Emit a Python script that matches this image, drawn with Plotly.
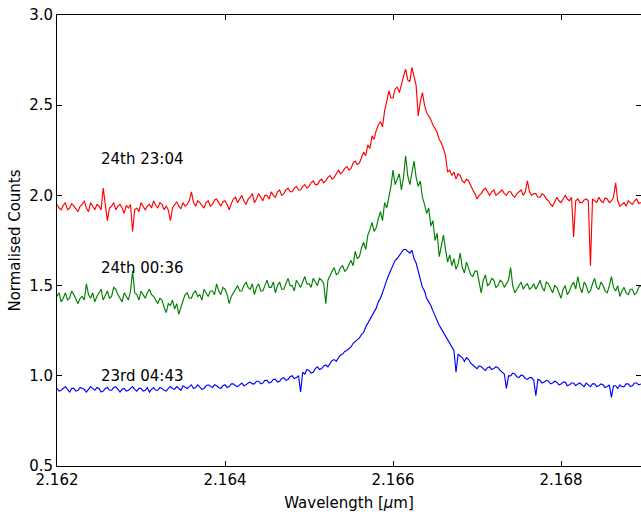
import numpy as np
import plotly.graph_objects as go

# Wavelength grid of the extracted spectra (micron)
WL_START = 2.162
WL_STEP = 0.000025

# Normalised counts, one spectrum per epoch
red_2304 = [
    1.95, 1.93, 1.92, 1.945, 1.96, 1.92, 1.93, 1.955, 1.94, 1.925,
    1.91, 1.94, 1.95, 1.97, 1.93, 1.91, 1.96, 1.94, 1.92, 1.95,
    1.94, 1.92, 2.04, 1.95, 1.86, 1.93, 1.94, 1.96, 1.92, 1.94,
    1.95, 1.93, 1.90, 1.945, 1.93, 1.95, 1.80, 1.92, 1.93, 1.91,
    1.96, 1.94, 1.92, 1.94, 1.95, 1.93, 1.97, 1.945, 1.93, 1.96,
    1.95, 1.92, 1.94, 1.92, 1.86, 1.93, 1.95, 1.965, 1.94, 1.925,
    1.96, 1.94, 1.95, 1.97, 2.02, 1.96, 1.94, 1.97, 1.96, 1.945,
    1.93, 1.96, 1.97, 1.94, 1.95, 1.975, 1.98, 1.96, 1.94, 1.965,
    1.97, 1.95, 1.92, 1.955, 1.98, 1.99, 1.96, 1.98, 2.00, 1.97,
    1.95, 1.98, 1.99, 2.01, 1.96, 1.98, 2.01, 1.99, 1.97, 2.00,
    2.00, 1.98, 2.02, 2.00, 1.99, 2.02, 2.03, 2.00, 2.01, 2.03,
    2.04, 2.02, 2.02, 2.04, 2.05, 2.03, 2.03, 2.05, 2.06, 2.04,
    2.05, 2.07, 2.08, 2.06, 2.06, 2.08, 2.09, 2.07, 2.08, 2.10,
    2.11, 2.09, 2.10, 2.12, 2.14, 2.12, 2.13, 2.15, 2.16, 2.14,
    2.15, 2.18, 2.19, 2.17, 2.18, 2.21, 2.24, 2.22, 2.28, 2.26,
    2.33, 2.31, 2.36, 2.39, 2.41, 2.38, 2.47, 2.52, 2.58, 2.54,
    2.54, 2.59, 2.60, 2.57, 2.62, 2.66, 2.70, 2.64, 2.63, 2.71,
    2.66, 2.61, 2.44, 2.52, 2.57, 2.50, 2.46, 2.44, 2.42, 2.39,
    2.37, 2.35, 2.31, 2.29, 2.26, 2.22, 2.13, 2.14, 2.11, 2.13,
    2.09, 2.12, 2.11, 2.08, 2.07, 2.09, 2.08, 2.05, 2.03, 2.01,
    1.98, 2.00, 2.01, 2.03, 2.04, 2.02, 2.00, 2.02, 2.03, 2.00,
    2.01, 2.02, 2.03, 2.01, 2.00, 2.02, 2.02, 2.00, 1.99, 2.01,
    2.02, 2.03, 2.00, 2.02, 2.08, 2.02, 2.00, 2.01, 2.01, 1.99,
    1.99, 2.01, 2.00, 1.98, 1.97, 1.95, 1.94, 1.97, 1.99, 1.97,
    1.96, 1.98, 2.00, 1.98, 1.97, 1.99, 1.77, 1.97, 1.98, 1.96,
    1.96, 1.975, 1.98, 1.97, 1.61, 1.98, 1.97, 1.96, 1.99, 1.97,
    1.96, 1.985, 1.98, 1.96, 1.97, 1.99, 2.07, 1.97, 1.94, 1.95,
    1.96, 1.94, 1.97, 1.96, 1.95, 1.97, 1.98, 1.955, 1.96,
]

green_0036 = [
    1.44, 1.46, 1.41, 1.43, 1.46, 1.42, 1.43, 1.47, 1.45, 1.42,
    1.40, 1.43, 1.44, 1.42, 1.51, 1.45, 1.43, 1.46, 1.41, 1.44,
    1.46, 1.48, 1.42, 1.45, 1.47, 1.43, 1.44, 1.49, 1.48, 1.45,
    1.43, 1.41, 1.46, 1.44, 1.42, 1.47, 1.58, 1.46, 1.45, 1.42,
    1.47, 1.45, 1.43, 1.46, 1.48, 1.45, 1.44, 1.42, 1.40, 1.43,
    1.42, 1.38, 1.35, 1.40, 1.39, 1.42, 1.37, 1.40, 1.34, 1.38,
    1.42, 1.45, 1.46, 1.43, 1.43, 1.46, 1.47, 1.44, 1.45, 1.42,
    1.48, 1.46, 1.44, 1.47, 1.47, 1.45, 1.51, 1.47, 1.45, 1.49,
    1.48, 1.45, 1.40, 1.44, 1.46, 1.48, 1.50, 1.47, 1.47, 1.50,
    1.52, 1.49, 1.48, 1.51, 1.45, 1.49, 1.51, 1.47, 1.47, 1.50,
    1.53, 1.49, 1.49, 1.52, 1.46, 1.50, 1.52, 1.48, 1.48, 1.51,
    1.54, 1.50, 1.50, 1.47, 1.53, 1.51, 1.49, 1.52, 1.55, 1.51,
    1.51, 1.49, 1.54, 1.52, 1.50, 1.54, 1.53, 1.51, 1.40, 1.53,
    1.56, 1.58, 1.60, 1.56, 1.57, 1.60, 1.61, 1.58, 1.59, 1.62,
    1.64, 1.61, 1.69, 1.65, 1.66, 1.71, 1.74, 1.70, 1.78, 1.81,
    1.85, 1.80, 1.82, 1.87, 1.91, 1.86, 1.96, 1.93, 1.99, 2.05,
    2.14, 2.06, 2.09, 2.12, 2.03, 2.10, 2.22, 2.11, 2.06, 2.13,
    2.19, 2.10, 2.05, 2.08, 1.99, 1.95, 1.90, 1.93, 1.83, 1.86,
    1.75, 1.79, 1.66, 1.72, 1.78, 1.70, 1.63, 1.67, 1.61, 1.65,
    1.59, 1.62, 1.68, 1.60, 1.57, 1.63, 1.60, 1.56, 1.55, 1.58,
    1.58, 1.52, 1.46, 1.53, 1.56, 1.50, 1.51, 1.54, 1.53, 1.49,
    1.50, 1.53, 1.52, 1.49, 1.51, 1.53, 1.60, 1.50, 1.46, 1.48,
    1.50, 1.52, 1.48, 1.50, 1.51, 1.48, 1.49, 1.51, 1.48, 1.50,
    1.53, 1.49, 1.47, 1.52, 1.51, 1.48, 1.46, 1.50, 1.49, 1.46,
    1.43, 1.48, 1.50, 1.45, 1.47, 1.50, 1.52, 1.48, 1.55, 1.49,
    1.46, 1.52, 1.50, 1.46, 1.47, 1.51, 1.54, 1.49, 1.48, 1.52,
    1.50, 1.47, 1.46, 1.50, 1.55, 1.49, 1.47, 1.50, 1.44, 1.47,
    1.49, 1.46, 1.45, 1.48, 1.48, 1.45, 1.46, 1.49, 1.50,
]

blue_0443 = [
    0.93, 0.915, 0.92, 0.93, 0.94, 0.925, 0.91, 0.93, 0.93, 0.915,
    0.92, 0.935, 0.93, 0.925, 0.91, 0.925, 0.94, 0.93, 0.92, 0.935,
    0.93, 0.91, 0.915, 0.93, 0.935, 0.92, 0.92, 0.935, 0.94, 0.925,
    0.91, 0.925, 0.93, 0.915, 0.92, 0.93, 0.94, 0.925, 0.915, 0.93,
    0.93, 0.915, 0.92, 0.935, 0.91, 0.925, 0.935, 0.92, 0.92, 0.935,
    0.93, 0.92, 0.915, 0.93, 0.94, 0.93, 0.925, 0.94, 0.93, 0.92,
    0.945, 0.935, 0.93, 0.94, 0.95, 0.93, 0.935, 0.95, 0.94, 0.925,
    0.93, 0.945, 0.95, 0.94, 0.935, 0.95, 0.945, 0.935, 0.93, 0.945,
    0.95, 0.935, 0.94, 0.955, 0.955, 0.945, 0.94, 0.95, 0.96, 0.945,
    0.95, 0.96, 0.965, 0.955, 0.955, 0.97, 0.97, 0.955, 0.96, 0.975,
    0.975, 0.96, 0.965, 0.98, 0.98, 0.965, 0.97, 0.985, 0.99, 0.975,
    0.98, 0.995, 1.00, 0.985, 0.99, 1.00, 0.91, 1.02, 1.01, 1.035,
    1.03, 1.015, 1.02, 1.04, 1.05, 1.035, 1.04, 1.055, 1.06, 1.05,
    1.07, 1.085, 1.09, 1.08, 1.10, 1.115, 1.12, 1.135, 1.14, 1.15,
    1.16, 1.18, 1.19, 1.20, 1.21, 1.23, 1.24, 1.27, 1.29, 1.31,
    1.33, 1.35, 1.375, 1.41, 1.43, 1.46, 1.50, 1.53, 1.56, 1.585,
    1.61, 1.64, 1.65, 1.665, 1.68, 1.70, 1.70, 1.69, 1.68, 1.695,
    1.65, 1.625, 1.58, 1.54, 1.49, 1.47, 1.43, 1.41, 1.39, 1.36,
    1.33, 1.31, 1.28, 1.26, 1.24, 1.22, 1.20, 1.18, 1.16, 1.14,
    1.02, 1.12, 1.11, 1.10, 1.08, 1.10, 1.09, 1.07, 1.06, 1.05,
    1.04, 1.055, 1.05, 1.04, 1.03, 1.045, 1.05, 1.035, 1.04, 1.05,
    1.045, 1.03, 1.02, 1.01, 0.93, 1.00, 1.00, 1.015, 1.01, 0.995,
    0.99, 1.005, 1.00, 0.985, 0.98, 0.99, 0.99, 0.975, 0.89, 0.98,
    0.975, 0.96, 0.965, 0.975, 0.97, 0.955, 0.96, 0.97, 0.965, 0.95,
    0.955, 0.965, 0.965, 0.945, 0.95, 0.96, 0.96, 0.945, 0.955, 0.96,
    0.95, 0.94, 0.96, 0.95, 0.94, 0.955, 0.955, 0.94, 0.945, 0.955,
    0.95, 0.935, 0.94, 0.95, 0.88, 0.945, 0.945, 0.93, 0.95, 0.94,
    0.94, 0.955, 0.955, 0.94, 0.945, 0.96, 0.96, 0.95, 0.955,
]

epoch_labels = ["24th 23:04", "24th 00:36", "23rd 04:43"]
label_y = [2.2, 1.6, 1.0]
label_x = 2.1625

x_ticks = [2.162, 2.164, 2.166, 2.168]
y_ticks = [0.5, 1.0, 1.5, 2.0, 2.5, 3.0]
x_range = [2.162, 2.168952]
y_range = [0.5, 3.0]

wavelength = WL_START + WL_STEP * np.arange(len(red_2304))

FONT = "DejaVu Sans"
LINE_W = 1.15

fig = go.Figure()
fig.add_trace(go.Scatter(x=wavelength, y=blue_0443, mode="lines",
                         line=dict(color="#0000ff", width=LINE_W), yaxis="y2"))
fig.add_trace(go.Scatter(x=wavelength, y=green_0036, mode="lines",
                         line=dict(color="#008000", width=LINE_W)))
fig.add_trace(go.Scatter(x=wavelength, y=red_2304, mode="lines",
                         line=dict(color="#ff0000", width=LINE_W)))

for txt, yy in zip(epoch_labels, label_y):
    fig.add_annotation(x=label_x, y=yy, text=txt, showarrow=False,
                       xanchor="left", yanchor="middle",
                       font=dict(family=FONT, size=15, color="black"))

axis_common = dict(showgrid=False, zeroline=False, ticks="inside",
                   ticklen=5, tickwidth=1, tickcolor="black",
                   tickfont=dict(family=FONT, size=15, color="black"))

fig.update_layout(
    width=641, height=512,
    margin=dict(l=57, r=0, t=15, b=46),
    paper_bgcolor="white", plot_bgcolor="white",
    showlegend=False,
    font=dict(family=FONT, size=15, color="black"),
    xaxis=dict(range=x_range, tickvals=x_ticks, tickformat=".3f",
               showline=True, linecolor="black", linewidth=1, mirror="ticks",
               title=dict(text="Wavelength [<i>μ</i>m]", standoff=9,
                          font=dict(family=FONT, size=15, color="black")),
               **axis_common),
    yaxis=dict(range=y_range, tickvals=y_ticks, tickformat=".1f",
               showline=True, linecolor="black", linewidth=1, mirror=False,
               title=dict(text="Normalised Counts", standoff=4,
                          font=dict(family=FONT, size=15, color="black")),
               **axis_common),
    yaxis2=dict(range=y_range, tickvals=y_ticks, overlaying="y", side="right",
                showline=False, showticklabels=False, **axis_common),
)

fig.write_html("out.html")
